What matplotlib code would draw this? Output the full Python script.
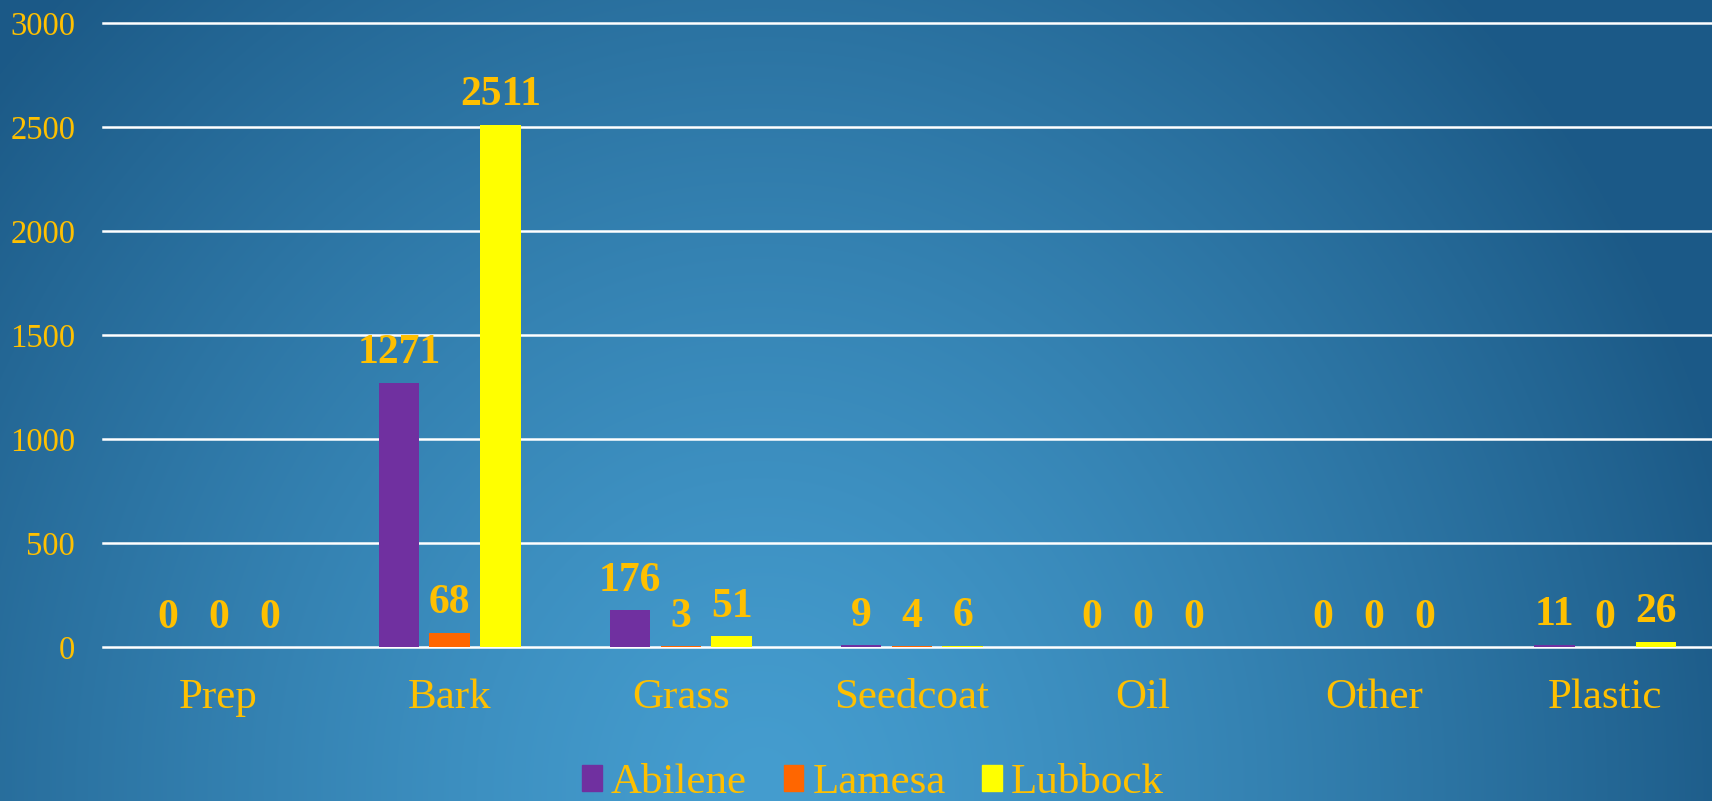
import numpy as np
import matplotlib
matplotlib.use("Agg")
import matplotlib.pyplot as plt
from matplotlib.patches import Patch

categories = ["Prep", "Bark", "Grass", "Seedcoat", "Oil", "Other", "Plastic"]
abilene = [0, 1271, 176, 9, 0, 0, 11]
lamesa = [0, 68, 3, 4, 0, 0, 0]
lubbock = [0, 2511, 51, 6, 0, 0, 26]
series_names = ["Abilene", "Lamesa", "Lubbock"]
yticks = [0, 500, 1000, 1500, 2000, 2500, 3000]

colors = ["#7030A0", "#FF6600", "#FFFF00"]
gold = "#FFC000"
plt.rcParams["font.family"] = ["Liberation Serif", "DejaVu Serif"]

W, H = 1712, 801
fig = plt.figure(figsize=(W / 100, H / 100), dpi=100)

# radial background gradient, light at bottom centre
bg = fig.add_axes([0, 0, 1, 1], zorder=-10)
yy, xx = np.mgrid[0:H, 0:W]
t = np.sqrt(((xx - 760) / 1000.0) ** 2 + ((yy - 790) / 1100.0) ** 2)
t = np.clip(t, 0, 1) ** 1.3
c0 = np.array([69, 157, 207]) / 255
c1 = np.array([28, 90, 135]) / 255
img = c0[None, None, :] + (c1 - c0)[None, None, :] * t[:, :, None]
bg.imshow(img, aspect="auto", extent=[0, 1, 0, 1], origin="upper")
bg.axis("off")

ax = fig.add_axes([103 / W, 1 - 647 / H, 7 * 231.1 / W, 624 / H])
ax.set_facecolor("none")
x = np.arange(len(categories))
bw = 0.175
off = 0.22
for i, (name, vals) in enumerate(zip(series_names, [abilene, lamesa, lubbock])):
    xs = x + (i - 1) * off
    ax.bar(xs, vals, width=bw, color=colors[i], label=name, zorder=3)
    for xv, v in zip(xs, vals):
        ax.annotate(str(v), (xv, v), xytext=(0, 14), textcoords="offset points",
                    ha="center", va="baseline", fontsize=30, fontweight="bold",
                    color=gold, zorder=4)

ax.set_xlim(-0.5, len(categories) - 0.5)
ax.set_ylim(0, 3000)
for yv in yticks:
    ax.axhline(yv, color="white", lw=1.8, zorder=2, clip_on=False)
ax.set_yticks(yticks)
ax.set_xticks(x)
ax.set_xticklabels(categories)
ax.tick_params(axis="y", length=0, pad=20, labelsize=23.5, labelcolor=gold)
ax.tick_params(axis="x", length=0, pad=23, labelsize=31, labelcolor=gold)
for s in ax.spines.values():
    s.set_visible(False)

handles = [Patch(color=c) for c in colors]
leg = fig.legend(handles, series_names, loc="center", bbox_to_anchor=(0.51, 0.023),
                 ncol=3, frameon=False, fontsize=31, handlelength=0.45, handleheight=0.55,
                 handletextpad=0.22, columnspacing=0.85)
for txt in leg.get_texts():
    txt.set_color(gold)

fig.savefig("out.png", dpi=100)
